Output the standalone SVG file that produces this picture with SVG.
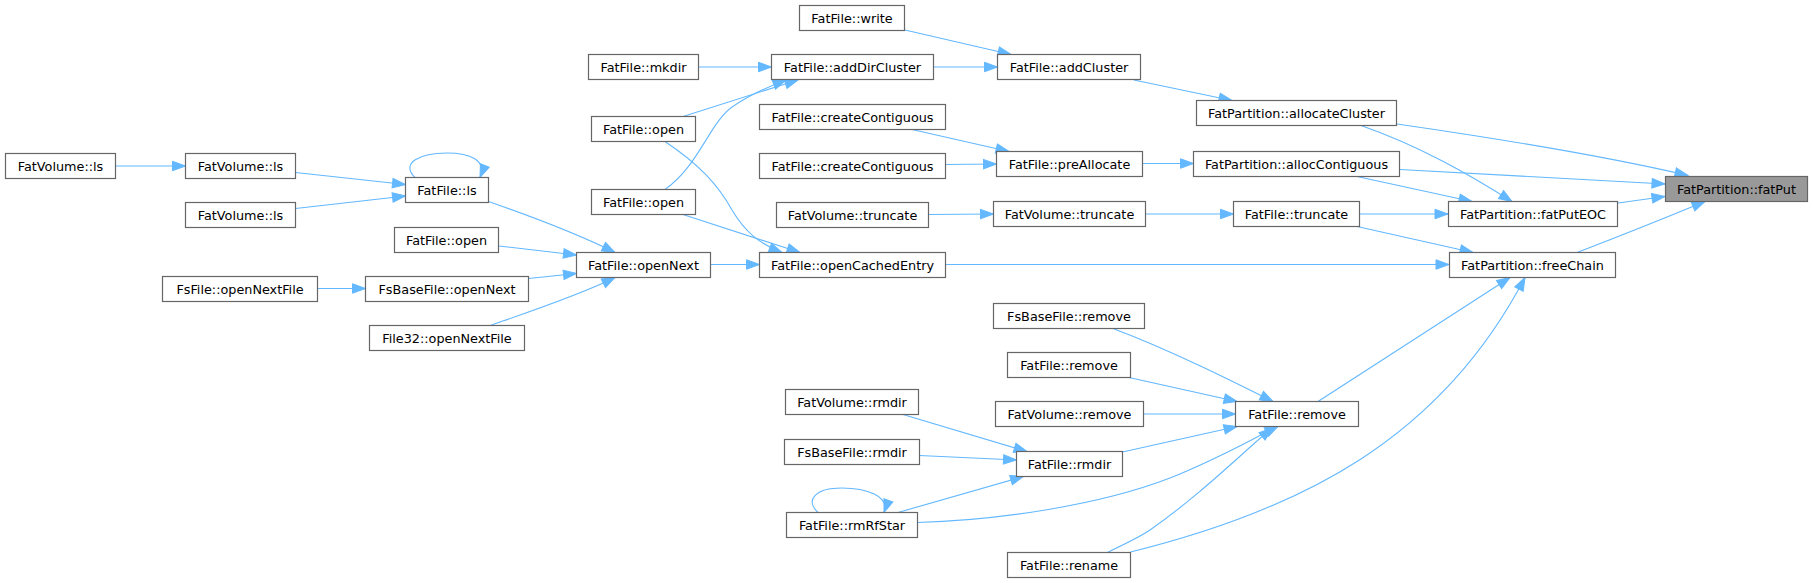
<svg xmlns="http://www.w3.org/2000/svg" width="1813" height="583" viewBox="0 0 1813 583">
<style>
.node rect{fill:#ffffff;stroke:#666666;stroke-width:1.2}
.node.hl rect{fill:#999999}
.node text{font-family:"DejaVu Sans","Liberation Sans",sans-serif;font-size:12.8px;text-anchor:middle;fill:#000000}
.edges path{fill:none;stroke:#63b8ff;stroke-width:1.1;marker-end:url(#arr)}
</style>
<defs>
<marker id="arr" markerUnits="userSpaceOnUse" markerWidth="16" markerHeight="12" refX="13" refY="4.75" orient="auto" overflow="visible">
<path d="M0,0 L13,4.75 L0,9.5 z" fill="#63b8ff" stroke="#63b8ff" stroke-width="1"/>
</marker>
</defs>
<rect x="0" y="0" width="1813" height="583" fill="#ffffff"/>
<g class="edges">
<path d="M1397,124 C1480,136 1600,155 1688,175.5"/>
<path d="M1400,169.5 L1665,184"/>
<path d="M1618,203 L1665,196.5"/>
<path d="M1577,252.5 C1620,236 1665,218 1705,201.5"/>
<path d="M1361,125.5 C1420,146 1470,175 1512,201.5"/>
<path d="M1357,176.5 L1472,201.5"/>
<path d="M1360,214 L1448,214"/>
<path d="M1357,226.5 L1473,252.5"/>
<path d="M945,264.5 L1449,264.5"/>
<path d="M1318,401.5 L1510,277.5"/>
<path d="M1130.5,552 C1300,510 1440,440 1525,277.5"/>
<path d="M1134,80 L1232,100.5"/>
<path d="M905,30 L1011,54.5"/>
<path d="M933.5,67 L997.5,67"/>
<path d="M699,67 L771.5,67"/>
<path d="M683,116.5 L798,80"/>
<path d="M665,189.5 C700,165 710,120 735,105 C750,95 765,88 786,80"/>
<path d="M665,141.5 C700,165 718,185 732,210 C745,232 760,244 782,252.5"/>
<path d="M683,214.5 L800,252.5"/>
<path d="M711,264.5 L759.5,264.5"/>
<path d="M912,129.5 L1009,151.5"/>
<path d="M945.5,164.5 L996.5,164"/>
<path d="M1143,163.5 L1193.5,163.5"/>
<path d="M928.5,214.5 L993.5,214"/>
<path d="M1145.5,214 L1233.5,214"/>
<path d="M115.5,166 L185.5,166"/>
<path d="M295.5,172.5 L405.5,184.5"/>
<path d="M295.5,208.5 L405.5,196"/>
<path d="M415,177.5 C400,163 420,153 447,153 C470,153 487,160 480,177.5"/>
<path d="M488.5,201.5 C530,216 580,235 615,252.5"/>
<path d="M499,246 L576.5,255"/>
<path d="M528.5,278.5 L576.5,273.5"/>
<path d="M490,325.5 C520,315 580,295 615,277.5"/>
<path d="M317.5,288.5 L365.5,288.5"/>
<path d="M1113,328.5 C1170,350 1230,380 1273,401.5"/>
<path d="M1129,377.5 L1237,401.5"/>
<path d="M1143.5,414 L1235.5,414"/>
<path d="M1122.5,452 L1237,426.5"/>
<path d="M917.5,522.5 C1000,520 1100,505 1170,478 C1220,458 1250,440 1278,426.5"/>
<path d="M1107,552.5 C1125,544 1140,537 1150,530 C1200,495 1240,455 1272,428"/>
<path d="M903,414.5 L1027,451.5"/>
<path d="M919.5,455.5 L1016.5,460"/>
<path d="M898,512.5 L1023.5,476.5"/>
<path d="M818,512.5 C805,500 815,488 842,488 C866,488 890,496 884,512.5"/>
</g>
<g id="n_fatPut" class="node hl"><rect x="1665.5" y="176.5" width="142" height="25"/><text x="1736.5" y="193.5">FatPartition::fatPut</text></g>
<g id="n_allocateCluster" class="node"><rect x="1196.5" y="100.5" width="200" height="25"/><text x="1296.5" y="117.5">FatPartition::allocateCluster</text></g>
<g id="n_allocContiguous" class="node"><rect x="1193.5" y="151.5" width="206" height="25"/><text x="1296.5" y="168.5">FatPartition::allocContiguous</text></g>
<g id="n_fatPutEOC" class="node"><rect x="1448.5" y="201.5" width="169" height="25"/><text x="1533" y="218.5">FatPartition::fatPutEOC</text></g>
<g id="n_freeChain" class="node"><rect x="1449.5" y="252.5" width="166" height="25"/><text x="1532.5" y="269.5">FatPartition::freeChain</text></g>
<g id="n_addCluster" class="node"><rect x="997.5" y="54.5" width="143" height="25"/><text x="1069" y="71.5">FatFile::addCluster</text></g>
<g id="n_write" class="node"><rect x="799.5" y="5.5" width="105" height="25"/><text x="852" y="22.5">FatFile::write</text></g>
<g id="n_addDirCluster" class="node"><rect x="771.5" y="54.5" width="162" height="25"/><text x="852.5" y="71.5">FatFile::addDirCluster</text></g>
<g id="n_mkdir" class="node"><rect x="588.5" y="54.5" width="110" height="25"/><text x="643.5" y="71.5">FatFile::mkdir</text></g>
<g id="n_open_a" class="node"><rect x="591.5" y="116.5" width="104" height="25"/><text x="643.5" y="133.5">FatFile::open</text></g>
<g id="n_open_b" class="node"><rect x="591.5" y="189.5" width="104" height="25"/><text x="643.5" y="206.5">FatFile::open</text></g>
<g id="n_createContiguous_a" class="node"><rect x="759.5" y="104.5" width="186" height="25"/><text x="852.5" y="121.5">FatFile::createContiguous</text></g>
<g id="n_createContiguous_b" class="node"><rect x="759.5" y="153.5" width="186" height="25"/><text x="852.5" y="170.5">FatFile::createContiguous</text></g>
<g id="n_preAllocate" class="node"><rect x="996.5" y="151.5" width="146" height="25"/><text x="1069.5" y="168.5">FatFile::preAllocate</text></g>
<g id="n_FatFile_truncate" class="node"><rect x="1233.5" y="201.5" width="126" height="25"/><text x="1296.5" y="218.5">FatFile::truncate</text></g>
<g id="n_FatVolume_truncate_a" class="node"><rect x="776.5" y="202.5" width="152" height="25"/><text x="852.5" y="219.5">FatVolume::truncate</text></g>
<g id="n_FatVolume_truncate_b" class="node"><rect x="993.5" y="201.5" width="152" height="25"/><text x="1069.5" y="218.5">FatVolume::truncate</text></g>
<g id="n_openCachedEntry" class="node"><rect x="759.5" y="252.5" width="186" height="25"/><text x="852.5" y="269.5">FatFile::openCachedEntry</text></g>
<g id="n_openNext" class="node"><rect x="576.5" y="252.5" width="134" height="25"/><text x="643.5" y="269.5">FatFile::openNext</text></g>
<g id="n_FatFile_ls" class="node"><rect x="405.5" y="177.5" width="83" height="25"/><text x="447" y="194.5">FatFile::ls</text></g>
<g id="n_open_c" class="node"><rect x="394.5" y="227.5" width="104" height="25"/><text x="446.5" y="244.5">FatFile::open</text></g>
<g id="n_FsBaseFile_openNext" class="node"><rect x="365.5" y="276.5" width="163" height="25"/><text x="447" y="293.5">FsBaseFile::openNext</text></g>
<g id="n_File32_openNextFile" class="node"><rect x="369.5" y="325.5" width="155" height="25"/><text x="447" y="342.5">File32::openNextFile</text></g>
<g id="n_FsFile_openNextFile" class="node"><rect x="162.5" y="276.5" width="155" height="25"/><text x="240" y="293.5">FsFile::openNextFile</text></g>
<g id="n_FatVolume_ls_a" class="node"><rect x="185.5" y="153.5" width="110" height="25"/><text x="240.5" y="170.5">FatVolume::ls</text></g>
<g id="n_FatVolume_ls_b" class="node"><rect x="185.5" y="202.5" width="110" height="25"/><text x="240.5" y="219.5">FatVolume::ls</text></g>
<g id="n_FatVolume_ls_c" class="node"><rect x="5.5" y="153.5" width="110" height="25"/><text x="60.5" y="170.5">FatVolume::ls</text></g>
<g id="n_FatFile_remove" class="node"><rect x="1235.5" y="401.5" width="123" height="25"/><text x="1297" y="418.5">FatFile::remove</text></g>
<g id="n_FsBaseFile_remove" class="node"><rect x="993.5" y="303.5" width="151" height="25"/><text x="1069" y="320.5">FsBaseFile::remove</text></g>
<g id="n_FatFile_remove_b" class="node"><rect x="1007.5" y="352.5" width="123" height="25"/><text x="1069" y="369.5">FatFile::remove</text></g>
<g id="n_FatVolume_remove" class="node"><rect x="995.5" y="401.5" width="148" height="25"/><text x="1069.5" y="418.5">FatVolume::remove</text></g>
<g id="n_FatFile_rmdir" class="node"><rect x="1016.5" y="451.5" width="106" height="25"/><text x="1069.5" y="468.5">FatFile::rmdir</text></g>
<g id="n_FatVolume_rmdir" class="node"><rect x="785.5" y="389.5" width="133" height="25"/><text x="852" y="406.5">FatVolume::rmdir</text></g>
<g id="n_FsBaseFile_rmdir" class="node"><rect x="784.5" y="439.5" width="135" height="25"/><text x="852" y="456.5">FsBaseFile::rmdir</text></g>
<g id="n_rmRfStar" class="node"><rect x="786.5" y="512.5" width="131" height="25"/><text x="852" y="529.5">FatFile::rmRfStar</text></g>
<g id="n_rename" class="node"><rect x="1007.5" y="552.5" width="123" height="25"/><text x="1069" y="569.5">FatFile::rename</text></g>
</svg>
